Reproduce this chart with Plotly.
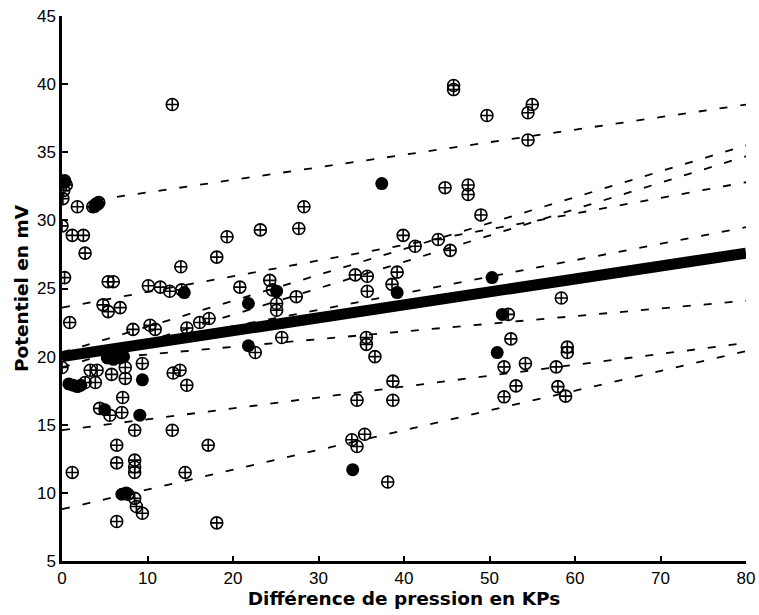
import plotly.graph_objects as go

# Open (circle-cross) data points
open_x = [0.3, 0.5, 0.2, 0.1, 0.0, 0.3, 1.8, 3.6, 4.0, 4.3, 1.2, 2.5, 2.7, 12.9, 5.4, 6.0,
          10.1, 11.5, 12.6, 14.0, 0.9, 4.8, 5.4, 6.8, 8.3, 10.3, 10.9, 14.6, 16.1, 17.2,
          0.0, 2.7, 3.9, 3.3, 4.1, 5.8, 7.4, 7.4, 9.4, 7.1, 4.4, 5.6, 7.0, 8.5, 12.9,
          13.8, 13.0, 14.6, 6.4, 6.4, 8.5, 8.5, 8.5, 1.2, 14.4, 17.1, 7.7, 8.5, 8.7, 9.4,
          6.4, 18.1, 19.3, 18.1, 13.9, 23.2, 28.3, 27.7, 20.8, 24.3, 24.6, 25.1, 25.1,
          27.4, 34.3, 35.7, 35.7, 38.6, 39.2, 25.7, 35.6, 35.6, 22.6, 36.6, 38.7, 38.7,
          34.5, 35.4, 33.9, 34.5, 38.1, 45.8, 45.8, 49.7, 55.0, 54.5, 54.5, 44.8, 47.5,
          47.5, 49.0, 39.9, 41.3, 44.0, 45.4, 58.4, 52.2, 52.5, 59.1, 59.1, 51.7, 54.2,
          57.8, 53.1, 51.7, 58.0, 58.9]
open_y = [32.9, 32.6, 32.2, 31.6, 29.6, 25.8, 31.0, 31.0, 31.2, 31.3, 28.9, 28.9, 27.6, 38.5, 25.5, 25.5,
          25.2, 25.1, 24.8, 24.9, 22.5, 23.8, 23.3, 23.6, 22.0, 22.3, 22.0, 22.1, 22.5, 22.8,
          19.2, 18.1, 18.1, 19.0, 19.0, 18.7, 19.2, 18.4, 19.5, 17.0, 16.2, 15.7, 15.9, 14.6, 14.6,
          19.0, 18.8, 17.9, 13.5, 12.2, 12.4, 11.9, 11.5, 11.5, 11.5, 13.5, 9.9, 9.6, 9.0, 8.5,
          7.9, 7.8, 28.8, 27.3, 26.6, 29.3, 31.0, 29.4, 25.1, 25.6, 24.9, 23.9, 23.4,
          24.4, 26.0, 25.9, 24.8, 25.3, 26.2, 21.4, 21.4, 20.9, 20.3, 20.0, 18.2, 16.8,
          16.8, 14.3, 13.9, 13.4, 10.8, 39.9, 39.6, 37.7, 38.5, 37.9, 35.9, 32.4, 32.6,
          31.9, 30.4, 28.9, 28.1, 28.6, 27.8, 24.3, 23.1, 21.3, 20.7, 20.3, 19.25, 19.5,
          19.25, 17.85, 17.05, 17.8, 17.1]

# Filled data points
fill_x = [0.3, 0.8, 1.3, 1.8, 2.2, 5.3, 6.0, 6.8, 7.2, 9.4, 9.1, 5.0, 7.0, 7.5, 37.4,
          21.8, 21.8, 14.3, 34.0, 39.2, 50.3, 50.9, 51.5, 25.1, 3.8, 4.2]
fill_y = [32.8, 18.0, 17.9, 17.8, 17.9, 19.9, 19.8, 19.9, 20.0, 18.3, 15.7, 16.1, 9.9, 10.0, 32.7,
          20.8, 23.9, 24.7, 11.7, 24.7, 25.8, 20.3, 23.1, 24.8, 31.0, 31.2]

# Individual regression lines (dashed): start x, start y, end x, end y
dash_x0 = [4.0, 0.0, 0.0, 0.0, 0.0, 9.0, 0.0, 0.0]
dash_y0 = [31.5, 20.3, 19.2, 23.6, 19.8, 20.1, 14.6, 8.8]
dash_x1 = [80, 80, 80, 80, 80, 80, 80, 80]
dash_y1 = [38.5, 35.5, 34.7, 32.8, 29.5, 24.1, 21.0, 20.4]

# Global regression line (thick)
mean_x = [0, 80]
mean_y = [20.0, 27.6]

x_ticks = [0, 10, 20, 30, 40, 50, 60, 70, 80]
y_ticks = [5, 10, 15, 20, 25, 30, 35, 40, 45]

fig = go.Figure()
for i in range(len(dash_x0)):
    fig.add_trace(go.Scatter(x=[dash_x0[i], dash_x1[i]], y=[dash_y0[i], dash_y1[i]],
                             mode="lines", line=dict(color="black", width=1.8, dash="8px,13px"),
                             showlegend=False, hoverinfo="skip"))
fig.add_trace(go.Scatter(x=mean_x, y=mean_y, mode="lines",
                         line=dict(color="black", width=11), showlegend=False))
fig.add_trace(go.Scatter(x=open_x, y=open_y, mode="markers",
                         marker=dict(symbol="circle-cross-open", size=12, color="black",
                                     line=dict(color="black", width=1.6)),
                         showlegend=False))
fig.add_trace(go.Scatter(x=fill_x, y=fill_y, mode="markers",
                         marker=dict(symbol="circle", size=13, color="black"),
                         showlegend=False))

fig.update_layout(
    width=759, height=615,
    margin=dict(l=62, r=13, t=16, b=54),
    paper_bgcolor="white", plot_bgcolor="white",
    font=dict(family="Liberation Sans, Arial, sans-serif", color="black", size=16),
)
fig.update_xaxes(range=[0, 80], tickvals=x_ticks, showgrid=False, zeroline=False,
                 automargin=False,
                 showline=True, linecolor="black", linewidth=2.5,
                 ticks="inside", ticklen=5, tickwidth=1.5, tickcolor="black",
                 tickfont=dict(size=17),
                 title=dict(text="<b>Différence de pression en KPs</b>",
                            font=dict(family="DejaVu Sans", size=18.5), standoff=4))
fig.update_yaxes(range=[5, 45], tickvals=y_ticks, showgrid=False, zeroline=False,
                 automargin=False,
                 showline=True, linecolor="black", linewidth=2.5,
                 ticks="inside", ticklen=6, tickwidth=1.5, tickcolor="black",
                 tickfont=dict(size=17),
                 title=dict(text="<b>Potentiel en mV</b>",
                            font=dict(family="DejaVu Sans", size=18.5), standoff=4))

fig.write_html("out.html", config={"displayModeBar": False},
               post_script="document.body.style.margin='0';document.body.style.overflow='hidden';")
